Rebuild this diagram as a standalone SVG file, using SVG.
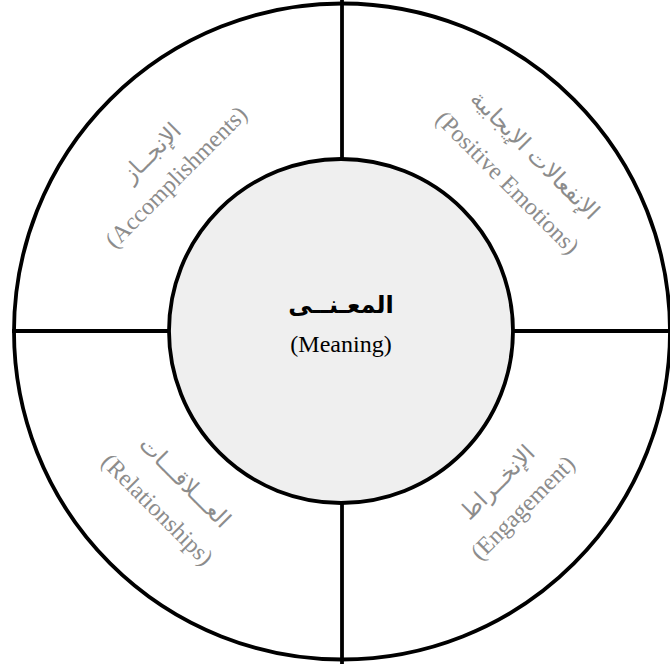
<svg xmlns="http://www.w3.org/2000/svg" width="670" height="664" viewBox="0 0 670 664">
<style>
.ring{fill:#ffffff;stroke:#000;stroke-width:3.8}
.core{fill:#efefef;stroke:#000;stroke-width:3.8}
.div{stroke:#000;stroke-width:3.8;fill:none}
.en{font-family:"Liberation Serif","Times New Roman",serif;font-size:24px;fill:#8c8c8c;text-anchor:middle}
.ar{font-family:"DejaVu Sans","Liberation Serif",sans-serif;font-size:23px;fill:#8c8c8c;text-anchor:middle}
.cen{font-family:"Liberation Serif",serif;font-size:24px;fill:#000;text-anchor:middle}
.cenar{font-family:"DejaVu Sans",sans-serif;font-size:24px;font-weight:bold;fill:#000;text-anchor:middle}
</style>
<rect width="670" height="664" fill="#ffffff"/>
<g id="outer"><circle class="ring" cx="342" cy="331.5" r="328"/></g>
<g id="connectors">
<line class="div" x1="342" y1="0" x2="342" y2="160"/>
<line class="div" x1="342" y1="503" x2="342" y2="664"/>
<line class="div" x1="12" y1="331" x2="170" y2="331"/>
<line class="div" x1="513" y1="331" x2="670" y2="331"/>
</g>
<g id="meaning">
<circle class="core" cx="341" cy="331" r="172"/>
<text class="cenar" x="341" y="313">المعـنــى</text>
<text class="cen" x="341" y="352">(Meaning)</text>
</g>
<g id="accomplishments" transform="translate(164,165) rotate(-45)">
<text class="ar" x="0" y="-10">الإنجــاز</text>
<text class="en" x="0" y="25">(Accomplishments)</text>
</g>
<g id="positive-emotions" transform="translate(521,169) rotate(45)">
<text class="ar" x="0" y="-12">الإنفعالات الإيجابية</text>
<text class="en" x="0" y="27">(Positive Emotions)</text>
</g>
<g id="relationships" transform="translate(171,496) rotate(45)">
<text class="ar" x="0" y="-12">العـــلاقـــات</text>
<text class="en" x="0" y="27">(Relationships)</text>
</g>
<g id="engagement" transform="translate(510,495) rotate(-45)">
<text class="ar" x="0" y="-10">الإنخــراط</text>
<text class="en" x="0" y="26">(Engagement)</text>
</g>
</svg>
